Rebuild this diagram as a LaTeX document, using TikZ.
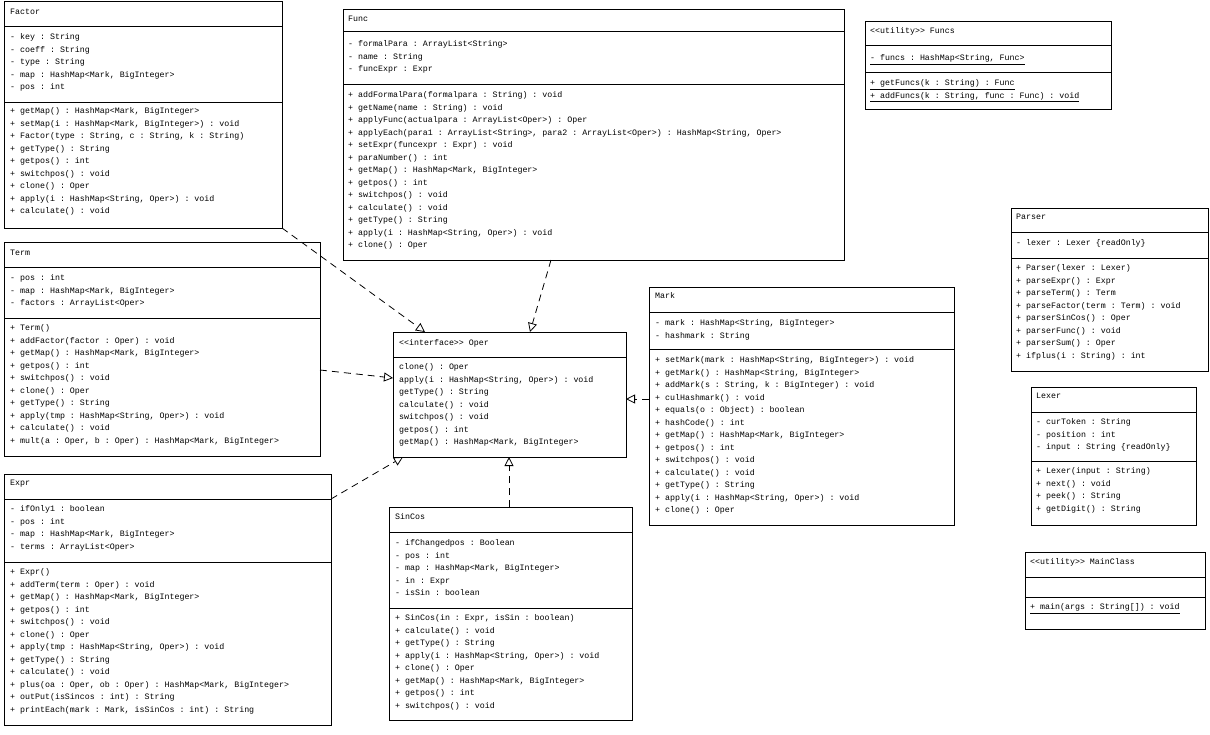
\documentclass[tikz,border=0pt]{standalone}
\usepackage{fontspec}
\setmonofont{Liberation Mono}
\usetikzlibrary{arrows.meta,calc}
\tikzset{
  cls/.style={draw=black, line width=0.9pt, fill=white, anchor=north west, inner sep=0pt, outer sep=0pt},
  txt/.style={anchor=west, inner sep=0pt, text height=5.5pt, text depth=0pt, font=\ttfamily\fontsize{8.3}{10}\selectfont},
  sepline/.style={line width=0.9pt},
  real/.style={draw=black, line width=0.8pt, dash pattern=on 7pt off 5pt, -{Triangle[open,length=9pt,width=9pt]}}
}
\newcommand\rowsat[4]{%
  \foreach \t [count=\i from 0] in {#4} {\node[txt] (#1\i) at (#2, {#3+\i*12.5}) {\t};}}
\newcommand\clsbox[5]{% name x y w h
  \node[cls, minimum width=#4pt, minimum height=#5pt] (#1) at (#2,#3) {};}
\newcommand\hsep[2]{\draw[sepline] (#1.west |- 0,#2) -- (#1.east |- 0,#2);}
\begin{document}
\begin{tikzpicture}[x=1pt,y=-1pt]
\useasboundingbox (0,0) rectangle (1210,734);
\fill[white] (0,0) rectangle (1210,734);

% ---------- Factor
\clsbox{factor}{4}{1}{278}{227}
\hsep{factor}{26}\hsep{factor}{102}
\node[txt] (factor-n) at (10,12) {Factor};
\rowsat{factor-a}{10}{37}{{- key : String},{- coeff : String},{- type : String},{- map : HashMap<Mark, BigInteger>},{- pos : int}}
\rowsat{factor-m}{10}{111}{{+ getMap() : HashMap<Mark, BigInteger>},{+ setMap(i : HashMap<Mark, BigInteger>) : void},{+ Factor(type : String, c : String, k : String)},{+ getType() : String},{+ getpos() : int},{+ switchpos() : void},{+ clone() : Oper},{+ apply(i : HashMap<String, Oper>) : void},{+ calculate() : void}}

% ---------- Func
\clsbox{func}{343}{9}{501}{251}
\hsep{func}{31}\hsep{func}{84}
\node[txt] (func-n) at (348,19) {Func};
\rowsat{func-a}{348}{44}{{- formalPara : ArrayList<String>},{- name : String},{- funcExpr : Expr}}
\rowsat{func-m}{348}{95}{{+ addFormalPara(formalpara : String) : void},{+ getName(name : String) : void},{+ applyFunc(actualpara : ArrayList<Oper>) : Oper},{+ applyEach(para1 : ArrayList<String>, para2 : ArrayList<Oper>) : HashMap<String, Oper>},{+ setExpr(funcexpr : Expr) : void},{+ paraNumber() : int},{+ getMap() : HashMap<Mark, BigInteger>},{+ getpos() : int},{+ switchpos() : void},{+ calculate() : void},{+ getType() : String},{+ apply(i : HashMap<String, Oper>) : void},{+ clone() : Oper}}

% ---------- Funcs
\clsbox{funcs}{865}{21}{246}{88}
\hsep{funcs}{45}\hsep{funcs}{72}
\node[txt] (funcs-n) at (870,31) {<<utility>> Funcs};
\rowsat{funcs-a}{870}{58}{{\underline{- funcs : HashMap<String, Func>}}}
\rowsat{funcs-m}{870}{83}{{\underline{+ getFuncs(k : String) : Func}},{\underline{+ addFuncs(k : String, func : Func) : void}}}

% ---------- Term
\clsbox{term}{4}{242}{316}{214}
\hsep{term}{267}\hsep{term}{318}
\node[txt] (term-n) at (10,253) {Term};
\rowsat{term-a}{10}{278}{{- pos : int},{- map : HashMap<Mark, BigInteger>},{- factors : ArrayList<Oper>}}
\rowsat{term-m}{10}{328}{{+ Term()},{+ addFactor(factor : Oper) : void},{+ getMap() : HashMap<Mark, BigInteger>},{+ getpos() : int},{+ switchpos() : void},{+ clone() : Oper},{+ getType() : String},{+ apply(tmp : HashMap<String, Oper>) : void},{+ calculate() : void},{+ mult(a : Oper, b : Oper) : HashMap<Mark, BigInteger>}}

% ---------- Oper
\clsbox{oper}{393}{332}{233}{125}
\hsep{oper}{357}
\node[txt] (oper-n) at (399,343) {<<interface>> Oper};
\rowsat{oper-m}{399}{367}{{clone() : Oper},{apply(i : HashMap<String, Oper>) : void},{getType() : String},{calculate() : void},{switchpos() : void},{getpos() : int},{getMap() : HashMap<Mark, BigInteger>}}

% ---------- Mark
\clsbox{mark}{649}{287}{305}{238}
\hsep{mark}{312}\hsep{mark}{349}
\node[txt] (mark-n) at (655,296) {Mark};
\rowsat{mark-a}{655}{323}{{- mark : HashMap<String, BigInteger>},{- hashmark : String}}
\rowsat{mark-m}{655}{360}{{+ setMark(mark : HashMap<String, BigInteger>) : void},{+ getMark() : HashMap<String, BigInteger>},{+ addMark(s : String, k : BigInteger) : void},{+ culHashmark() : void},{+ equals(o : Object) : boolean},{+ hashCode() : int},{+ getMap() : HashMap<Mark, BigInteger>},{+ getpos() : int},{+ switchpos() : void},{+ calculate() : void},{+ getType() : String},{+ apply(i : HashMap<String, Oper>) : void},{+ clone() : Oper}}

% ---------- Expr
\clsbox{expr}{4}{474}{327}{251}
\hsep{expr}{499}\hsep{expr}{562}
\node[txt] (expr-n) at (10,483) {Expr};
\rowsat{expr-a}{10}{509}{{- ifOnly1 : boolean},{- pos : int},{- map : HashMap<Mark, BigInteger>},{- terms : ArrayList<Oper>}}
\rowsat{expr-m}{10}{572}{{+ Expr()},{+ addTerm(term : Oper) : void},{+ getMap() : HashMap<Mark, BigInteger>},{+ getpos() : int},{+ switchpos() : void},{+ clone() : Oper},{+ apply(tmp : HashMap<String, Oper>) : void},{+ getType() : String},{+ calculate() : void},{+ plus(oa : Oper, ob : Oper) : HashMap<Mark, BigInteger>},{+ outPut(isSincos : int) : String},{+ printEach(mark : Mark, isSinCos : int) : String}}

% ---------- SinCos
\clsbox{sincos}{389}{507}{243}{213}
\hsep{sincos}{532}\hsep{sincos}{608}
\node[txt] (sincos-n) at (395,517) {SinCos};
\rowsat{sincos-a}{395}{543}{{- ifChangedpos : Boolean},{- pos : int},{- map : HashMap<Mark, BigInteger>},{- in : Expr},{- isSin : boolean}}
\rowsat{sincos-m}{395}{618}{{+ SinCos(in : Expr, isSin : boolean)},{+ calculate() : void},{+ getType() : String},{+ apply(i : HashMap<String, Oper>) : void},{+ clone() : Oper},{+ getMap() : HashMap<Mark, BigInteger>},{+ getpos() : int},{+ switchpos() : void}}

% ---------- Parser
\clsbox{parser}{1011}{208}{197}{163}
\hsep{parser}{232}\hsep{parser}{258}
\node[txt] (parser-n) at (1016,217) {Parser};
\rowsat{parser-a}{1016}{243}{{- lexer : Lexer \{readOnly\}}}
\rowsat{parser-m}{1016}{268}{{+ Parser(lexer : Lexer)},{+ parseExpr() : Expr},{+ parseTerm() : Term},{+ parseFactor(term : Term) : void},{+ parserSinCos() : Oper},{+ parserFunc() : void},{+ parserSum() : Oper},{+ ifplus(i : String) : int}}

% ---------- Lexer
\clsbox{lexer}{1031}{387}{165}{138}
\hsep{lexer}{412}\hsep{lexer}{461}
\node[txt] (lexer-n) at (1036,396) {Lexer};
\rowsat{lexer-a}{1036}{422}{{- curToken : String},{- position : int},{- input : String \{readOnly\}}}
\rowsat{lexer-m}{1036}{471}{{+ Lexer(input : String)},{+ next() : void},{+ peek() : String},{+ getDigit() : String}}

% ---------- MainClass
\clsbox{mainclass}{1025}{552}{180}{77}
\hsep{mainclass}{577}\hsep{mainclass}{597}
\node[txt] (mainclass-n) at (1030,562) {<<utility>> MainClass};
\rowsat{mainclass-m}{1030}{607}{{\underline{+ main(args : String[]) : void}}}

% ---------- realizations
\draw[real] (factor.south east) -- ($(oper.north west)+(32,0)$);
\draw[real] ($(func.south west)+(208,0)$) -- ($(oper.north west)+(137,0)$);
\draw[real] ($(term.east)+(0,21)$) -- ($(oper.west)+(0,-16.5)$);
\draw[real] ($(expr.north east)+(0,25)$) -- ($(oper.south west)+(10,0)$);
\draw[real] ($(sincos.north west)+(120,0)$) -- ($(oper.south west)+(116,0)$);
\draw[real] ($(mark.west)+(0,-7)$) -- ($(oper.east)+(0,4.5)$);
\end{tikzpicture}
\end{document}
